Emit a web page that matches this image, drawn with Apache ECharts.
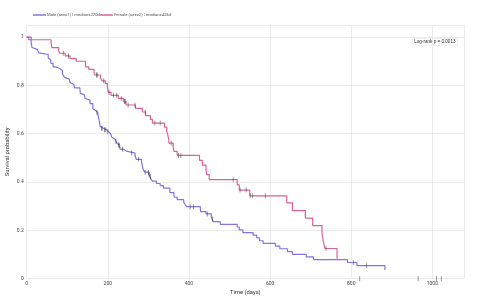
<!DOCTYPE html>
<html>
<head>
<meta charset="utf-8">
<script src="https://cdn.jsdelivr.net/npm/echarts@6/dist/echarts.min.js"></script>
<style>
  html, body { margin: 0; padding: 0; background: #fff; }
  #chart { width: 480px; height: 300px; }
</style>
</head>
<body>
<div id="chart"></div>
<script>
// Kaplan-Meier steps (time in days, survival after the event)
const maleTime = [0, 11, 12, 13, 15, 26, 30, 31, 53, 54, 59, 60, 65, 71, 81, 88, 92, 93, 95, 105, 107, 110, 116, 118, 131, 132, 135, 142, 144, 147, 156, 163, 166, 170, 175, 176, 177, 179, 180, 181, 183, 189, 197, 202, 207, 210, 212, 218, 222, 223, 229, 230, 239, 246, 267, 269, 270, 283, 284, 285, 286, 288, 291, 301, 303, 306, 310, 320, 329, 337, 353, 363, 364, 371, 387, 390, 394, 428, 429, 442, 455, 457, 460, 477, 519, 524, 533, 558, 567, 574, 583, 613, 624, 643, 655, 689, 707, 791, 814, 883];
const maleSurv = [1, 0.978, 0.971, 0.957, 0.949, 0.942, 0.935, 0.928, 0.913, 0.906, 0.899, 0.891, 0.877, 0.870, 0.862, 0.848, 0.841, 0.833, 0.826, 0.819, 0.812, 0.804, 0.797, 0.790, 0.783, 0.768, 0.761, 0.754, 0.746, 0.739, 0.725, 0.703, 0.696, 0.688, 0.681, 0.674, 0.667, 0.652, 0.645, 0.630, 0.623, 0.616, 0.608, 0.600, 0.593, 0.585, 0.577, 0.569, 0.561, 0.553, 0.545, 0.536, 0.528, 0.520, 0.511, 0.503, 0.494, 0.485, 0.477, 0.468, 0.459, 0.450, 0.441, 0.432, 0.423, 0.413, 0.404, 0.394, 0.385, 0.375, 0.356, 0.346, 0.337, 0.327, 0.317, 0.308, 0.298, 0.288, 0.278, 0.268, 0.257, 0.247, 0.236, 0.225, 0.214, 0.202, 0.191, 0.180, 0.169, 0.157, 0.146, 0.135, 0.124, 0.112, 0.101, 0.090, 0.079, 0.067, 0.054, 0.036];

const femaleTime = [0, 5, 60, 61, 62, 79, 81, 95, 107, 122, 145, 153, 166, 167, 182, 186, 194, 199, 201, 208, 226, 239, 245, 268, 285, 293, 305, 310, 340, 345, 348, 350, 351, 361, 363, 371, 426, 433, 442, 444, 450, 519, 524, 550, 641, 655, 687, 705, 728, 731, 735, 765];
const femaleSurv = [1, 0.989, 0.978, 0.967, 0.956, 0.944, 0.933, 0.922, 0.911, 0.900, 0.877, 0.866, 0.855, 0.843, 0.831, 0.819, 0.807, 0.795, 0.771, 0.759, 0.746, 0.733, 0.719, 0.705, 0.690, 0.675, 0.659, 0.644, 0.627, 0.611, 0.594, 0.578, 0.561, 0.544, 0.527, 0.510, 0.490, 0.470, 0.451, 0.431, 0.410, 0.388, 0.367, 0.343, 0.314, 0.282, 0.251, 0.220, 0.188, 0.157, 0.125, 0.083];

// censored observations (tick marks)
const maleCensTime = [173, 184, 186, 192, 195, 200, 220, 226, 228, 236, 259, 276, 292, 300, 302, 305, 403, 411, 445, 458, 805, 838, 1010, 1022];
const maleCensSurv = [0.688, 0.623, 0.623, 0.616, 0.616, 0.608, 0.569, 0.553, 0.553, 0.536, 0.520, 0.494, 0.441, 0.441, 0.432, 0.423, 0.298, 0.298, 0.268, 0.247, 0.067, 0.054, 0, 0];
const femaleCensTime = [90, 103, 172, 174, 190, 203, 214, 222, 233, 241, 243, 250, 267, 292, 316, 329, 356, 374, 380, 509, 526, 541, 551, 557, 588, 738, 821, 965];
const femaleCensSurv = [0.933, 0.922, 0.843, 0.843, 0.819, 0.771, 0.759, 0.759, 0.746, 0.733, 0.733, 0.719, 0.719, 0.690, 0.644, 0.644, 0.561, 0.510, 0.510, 0.410, 0.367, 0.367, 0.343, 0.343, 0.343, 0.125, 0, 0];

const maleName = 'Male (sex=1) | median=270d';
const femaleName = 'Female (sex=2) | median=426d';
const pText = 'Log-rank p = 0.0013';

const maleColor = 'rgba(108, 92, 226, 0.85)';
const femaleColor = 'rgba(210, 72, 134, 0.85)';
const tickColor = 'rgba(40, 40, 40, 0.75)';

const zip = (a, b) => a.map((v, i) => [v, b[i]]);

const chart = echarts.init(document.getElementById('chart'));

const option = {
    animation: false,
    textStyle: { fontFamily: 'Roboto, "Open Sans", sans-serif' },
    legend: {
        left: 28,
        top: 8,
        itemWidth: 13,
        itemHeight: 1.5,
        itemGap: 0,
        textStyle: { fontSize: 4.2, color: '#555', padding: [0, 0, 0, -4] },
        data: [
            { name: maleName, icon: 'rect', itemStyle: { color: maleColor } },
            { name: femaleName, icon: 'rect', itemStyle: { color: femaleColor } }
        ]
    },
    grid: { left: 26.7, right: 16, top: 25, bottom: 21.3, outerBoundsMode: 'none' },
    xAxis: {
        type: 'value',
        min: 0,
        max: 1078,
        interval: 200,
        name: 'Time (days)',
        nameLocation: 'middle',
        nameGap: 11,
        nameMoveOverlap: false,
        nameTextStyle: { fontSize: 5.8, color: '#333' },
        axisLine: { show: false },
        axisTick: { show: false },
        axisLabel: {
            fontSize: 5, color: '#444', margin: 3,
            formatter: v => (v % 200 === 0 ? String(v) : '')
        },
        splitLine: { lineStyle: { color: '#e6e6e6', width: 0.8 } }
    },
    yAxis: {
        type: 'value',
        min: 0,
        max: 1.05,
        interval: 0.2,
        name: 'Survival probability',
        nameLocation: 'middle',
        nameGap: 16,
        nameMoveOverlap: false,
        nameRotate: 90,
        nameTextStyle: { fontSize: 5.8, color: '#333' },
        axisLine: { show: false },
        axisTick: { show: false },
        axisLabel: {
            fontSize: 5, color: '#444', margin: 3,
            formatter: v => (Math.abs(v * 5 - Math.round(v * 5)) < 1e-6 ? String(+v.toFixed(1)) : '')
        },
        splitLine: { lineStyle: { color: '#e6e6e6', width: 0.8 } }
    },
    series: [
        {
            name: maleName,
            type: 'line',
            step: 'end',
            symbol: 'none',
            data: zip(maleTime, maleSurv),
            lineStyle: { color: maleColor, width: 1.2 },
            itemStyle: { color: maleColor },
            z: 2
        },
        {
            name: femaleName,
            type: 'line',
            step: 'end',
            symbol: 'none',
            data: zip(femaleTime, femaleSurv),
            lineStyle: { color: femaleColor, width: 1.2 },
            itemStyle: { color: femaleColor },
            z: 2
        },
        {
            type: 'scatter',
            symbol: 'rect',
            symbolSize: [0.8, 5],
            data: zip(maleCensTime, maleCensSurv),
            itemStyle: { color: tickColor },
            z: 3,
            silent: true
        },
        {
            type: 'scatter',
            symbol: 'rect',
            symbolSize: [0.8, 5],
            data: zip(femaleCensTime, femaleCensSurv),
            itemStyle: { color: tickColor },
            z: 3,
            silent: true
        }
    ],
    graphic: [
        {
            type: 'text',
            right: 22,
            top: 38,
            style: {
                text: pText,
                fontSize: 4.6,
                fill: '#333',
                backgroundColor: 'rgba(255,255,255,0.9)',
                borderColor: '#e2e2e2',
                borderWidth: 0.5,
                padding: [1, 2]
            }
        }
    ]
};

chart.setOption(option);
</script>
</body>
</html>
